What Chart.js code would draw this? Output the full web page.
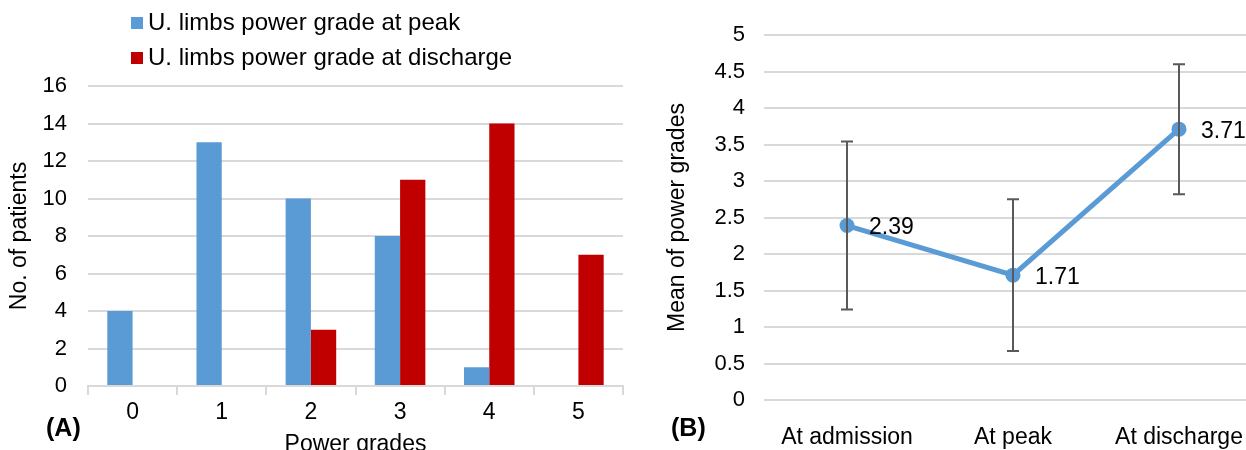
<!DOCTYPE html>
<html lang="en">
<head>
    <meta charset="UTF-8">
    <title>Power grades</title>
    <script src="https://cdn.jsdelivr.net/npm/chart.js"></script>
    <style>
        body { margin: 0; background: #fff; font-family: "Liberation Sans", Arial, sans-serif; }
        #wrap { position: relative; width: 1246px; height: 450px; overflow: hidden; }
        .panel { position: absolute; top: 0; height: 450px; overflow: hidden; }
        #panelA { left: 0; width: 640px; }
        #panelB { left: 640px; width: 606px; }
        .tag { position: absolute; font-weight: bold; font-size: 25px; color: #000; }
    </style>
</head>
<body>
<div id="wrap">
    <div class="panel" id="panelA"><div style="width:640px;height:458px"><canvas id="chartA"></canvas></div></div>
    <div class="panel" id="panelB"><div style="width:640px;height:450px"><canvas id="chartB"></canvas></div></div>
    <div class="tag" style="left:46px;top:413px">(A)</div>
    <div class="tag" style="left:671px;top:413px">(B)</div>
</div>

<script>
    // panel A data
    const grades = ['0', '1', '2', '3', '4', '5'];
    const peakCounts = [4, 13, 10, 8, 1, 0];
    const dischargeCounts = [0, 0, 3, 11, 14, 7];

    // panel B data
    const stages = ['At admission', 'At peak', 'At discharge'];
    const meanGrades = [2.39, 1.71, 3.71];
    const sdGrades = [1.15, 1.04, 0.89];

    const BLUE = '#5B9BD5';
    const RED = '#C00000';
    const GRID = '#D9D9D9';
    const FONT = '"Liberation Sans", Arial, sans-serif';

    Chart.defaults.font.family = FONT;
    Chart.defaults.font.size = 23;
    Chart.defaults.color = '#000';

    // legend stacked on two lines, like the original
    const stackedLegend = {
        id: 'stackedLegend',
        afterDraw(chart) {
            const ctx = chart.ctx;
            ctx.save();
            ctx.font = '24px ' + FONT;
            ctx.textBaseline = 'middle';
            chart.data.datasets.forEach((ds, i) => {
                const y = 23 + i * 35;
                ctx.fillStyle = ds.backgroundColor;
                ctx.fillRect(131, y - 6, 12, 12);
                ctx.fillStyle = '#000';
                ctx.fillText(ds.label, 148, y);
            });
            ctx.restore();
        }
    };

    new Chart(document.getElementById('chartA'), {
        type: 'bar',
        data: {
            labels: grades,
            datasets: [
                { label: 'U. limbs power grade at peak', data: peakCounts, backgroundColor: BLUE },
                { label: 'U. limbs power grade at discharge', data: dischargeCounts, backgroundColor: RED }
            ]
        },
        options: {
            responsive: true,
            maintainAspectRatio: false,
            animation: false,
            categoryPercentage: 0.567,
            barPercentage: 1,
            layout: { padding: { top: 86, right: 17, left: 0, bottom: 0 } },
            plugins: { legend: { display: false }, tooltip: { enabled: false } },
            scales: {
                x: {
                    grid: { color: GRID, lineWidth: 2, drawOnChartArea: false, tickLength: 9 },
                    border: { color: GRID, width: 2 },
                    ticks: { padding: 4 },
                    title: { display: true, text: 'Power grades', padding: 0 },
                    afterFit(s) { s.height = 72; }
                },
                y: {
                    min: 0, max: 16,
                    ticks: { stepSize: 2, padding: 21, font: { size: 22 } },
                    grid: { color: GRID, lineWidth: 2, drawTicks: false },
                    border: { display: false },
                    title: { display: true, text: 'No. of patients', padding: { top: 6, bottom: 0 } },
                    afterFit(s) { s.width = 88; }
                }
            }
        },
        plugins: [stackedLegend]
    });

    // error bars and value labels for panel B
    const errorBars = {
        id: 'errorBars',
        afterDatasetsDraw(chart) {
            const ctx = chart.ctx;
            const y = chart.scales.y;
            const meta = chart.getDatasetMeta(0);
            ctx.save();
            ctx.strokeStyle = '#595959';
            ctx.lineWidth = 2;
            meta.data.forEach((pt, i) => {
                const top = y.getPixelForValue(meanGrades[i] + sdGrades[i]);
                const bot = y.getPixelForValue(meanGrades[i] - sdGrades[i]);
                ctx.beginPath();
                ctx.moveTo(pt.x, top); ctx.lineTo(pt.x, bot);
                ctx.moveTo(pt.x - 6, top); ctx.lineTo(pt.x + 6, top);
                ctx.moveTo(pt.x - 6, bot); ctx.lineTo(pt.x + 6, bot);
                ctx.stroke();
            });
            ctx.restore();
        },
        afterDraw(chart) {
            const ctx = chart.ctx;
            const meta = chart.getDatasetMeta(0);
            ctx.save();
            ctx.font = '23px ' + FONT;
            ctx.fillStyle = '#000';
            ctx.textBaseline = 'middle';
            meta.data.forEach((pt, i) => {
                ctx.fillText(meanGrades[i].toFixed(2), pt.x + 22, pt.y + 2);
            });
            ctx.restore();
        }
    };

    new Chart(document.getElementById('chartB'), {
        type: 'line',
        data: {
            labels: stages,
            datasets: [{
                label: 'Mean of power grades',
                data: meanGrades,
                borderColor: BLUE,
                backgroundColor: BLUE,
                borderWidth: 5,
                pointRadius: 7.5,
                pointBackgroundColor: BLUE,
                pointBorderWidth: 0
            }]
        },
        options: {
            responsive: true,
            maintainAspectRatio: false,
            animation: false,
            layout: { padding: { top: 35, right: 18, left: 0, bottom: 0 } },
            plugins: { legend: { display: false }, tooltip: { enabled: false } },
            scales: {
                x: {
                    offset: true,
                    grid: { display: false },
                    border: { display: false },
                    ticks: { padding: 16 },
                    afterFit(s) { s.height = 50; }
                },
                y: {
                    min: 0, max: 5,
                    ticks: { stepSize: 0.5, padding: 19, font: { size: 22 }, callback: v => String(v) },
                    grid: { color: GRID, lineWidth: 2, drawTicks: false },
                    border: { display: false },
                    title: { display: true, text: 'Mean of power grades', padding: { top: 24, bottom: 0 } },
                    afterFit(s) { s.width = 124; }
                }
            }
        },
        plugins: [errorBars]
    });
</script>
</body>
</html>
